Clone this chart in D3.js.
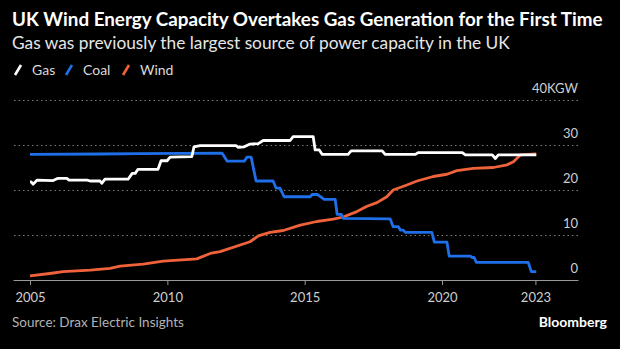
<!DOCTYPE html>
<html><head><meta charset="utf-8">
<script src="https://cdn.jsdelivr.net/npm/d3@7"></script>
<style>
html,body{margin:0;padding:0;background:#000;}
svg{display:block;font-family:Lato,"Noto Sans",sans-serif;}
</style></head>
<body>
<svg id="c" width="620" height="349"></svg>
<script>
const title = "UK Wind Energy Capacity Overtakes Gas Generation for the First Time";
const subtitle = "Gas was previously the largest source of power capacity in the UK";
const source = "Source: Drax Electric Insights";
const seriesNames = ["Gas", "Coal", "Wind"];
const seriesColors = ["#ffffff", "#1f6fe8", "#f0623a"];
const xTickValues = [2005, 2010, 2015, 2020, 2023.4];
const xTickLabels = ["2005", "2010", "2015", "2020", "2023"];
const yTickValues = [0, 10, 20, 30, 40];
const yTickLabels = ["0", "10", "20", "30", "40KGW"];

const gas = [[2005.0,21.8],[2005.04,21.8],[2005.11,21.3],[2005.26,22.2],[2005.84,22.1],[2006.02,22.6],[2006.34,22.6],[2006.42,22.2],[2007.08,22.2],[2007.19,22.0],[2007.55,22.0],[2007.61,21.5],[2007.73,22.4],[2008.57,22.4],[2008.72,23.7],[2008.83,23.7],[2008.93,24.6],[2009.66,24.6],[2009.77,26.5],[2009.99,26.5],[2010.1,27.3],[2010.89,27.4],[2010.97,29.6],[2011.19,29.85],[2012.5,29.85],[2012.58,29.5],[2012.8,29.6],[2013.01,30.2],[2013.31,30.3],[2013.49,31.0],[2014.47,31.0],[2014.58,31.85],[2015.31,31.85],[2015.38,28.9],[2015.53,28.9],[2015.64,27.9],[2016.58,27.9],[2016.69,28.7],[2017.82,28.7],[2017.93,27.9],[2019.03,27.9],[2019.13,28.3],[2020.74,28.3],[2020.85,27.8],[2021.83,27.8],[2021.94,27.0],[2022.05,27.8],[2023.43,27.8]];
const coal = [[2005.0,27.9],[2007.55,28.0],[2009.0,28.1],[2011.99,28.2],[2012.18,26.4],[2012.8,26.4],[2012.9,27.3],[2013.05,27.3],[2013.23,22.0],[2013.85,22.0],[2013.96,20.4],[2014.1,20.4],[2014.25,18.5],[2015.2,18.5],[2015.27,19.0],[2015.46,19.0],[2015.56,18.6],[2015.71,17.9],[2016.11,17.9],[2016.18,14.6],[2016.33,14.6],[2016.4,13.7],[2018.11,13.6],[2018.22,11.85],[2018.41,11.85],[2018.48,11.1],[2018.59,11.1],[2018.66,10.6],[2019.63,10.6],[2019.72,8.4],[2020.18,8.4],[2020.26,5.3],[2021.03,5.3],[2021.1,5.0],[2021.17,5.0],[2021.25,3.9],[2023.14,3.9],[2023.25,1.85],[2023.43,1.85]];
const wind = [[2005.0,0.9],[2005.79,1.5],[2006.2,1.85],[2007.19,2.2],[2007.91,2.6],[2008.28,3.1],[2009.12,3.55],[2009.85,4.2],[2011.07,4.7],[2011.56,5.9],[2011.92,6.3],[2013.01,8.5],[2013.31,9.8],[2013.74,10.6],[2014.22,11.0],[2014.84,12.2],[2015.44,13.0],[2016.04,13.55],[2016.4,14.0],[2016.9,15.2],[2017.27,16.4],[2017.63,17.2],[2017.99,18.5],[2018.22,20.0],[2018.72,21.1],[2019.09,22.0],[2019.68,23.0],[2020.18,23.5],[2020.54,24.3],[2021.14,24.8],[2021.87,25.0],[2022.37,25.6],[2022.6,26.3],[2022.85,27.8],[2023.43,28.0]];

const svg = d3.select("#c");
const x = d3.scaleLinear().domain([2004.38, 2024.95]).range([13, 578]);
const y = d3.scaleLinear().domain([0, 40]).range([280, 100]);

function fit(sel, target) {
  const w = sel.node().getComputedTextLength();
  const fs = parseFloat(sel.attr("font-size"));
  sel.attr("font-size", fs * target / w);
}

const t = svg.append("text").attr("x", 12).attr("y", 26).attr("font-size", 17)
  .attr("font-weight", 700).attr("fill", "#fff").text(title);
fit(t, 591);
const st = svg.append("text").attr("x", 12).attr("y", 49).attr("font-size", 16)
  .attr("fill", "#e6e6e6").text(subtitle);
fit(st, 498);

// legend
const legX = [14, 65, 122];
seriesNames.forEach((n, i) => {
  const g = svg.append("g").attr("transform", `translate(${legX[i]},70)`);
  g.append("line").attr("x1", 1).attr("y1", 5).attr("x2", 7).attr("y2", -5)
    .attr("stroke", seriesColors[i]).attr("stroke-width", 2.6);
  g.append("text").attr("x", 18).attr("y", 5).attr("font-size", 14)
    .attr("fill", "#d9d9d9").text(n);
});

// y grid + labels
const yAxis = d3.axisRight(y).tickValues(yTickValues)
  .tickFormat((d, i) => yTickLabels[i]).tickSize(-565);
const yg = svg.append("g").attr("transform", "translate(578,0)").call(yAxis);
yg.select(".domain").remove();
yg.selectAll(".tick line").attr("stroke", "#7a7a7a").attr("stroke-dasharray", "1.5,3")
  .attr("stroke-width", 1).filter(d => d === 0).remove();
yg.selectAll(".tick text").attr("x", 0).attr("dy", -8).attr("text-anchor", "end")
  .attr("font-size", 13).attr("fill", "#cfcfcf").attr("font-family", "Lato,'Noto Sans',sans-serif");

// lines
const line = d3.line().x(d => x(d[0])).y(d => y(d[1]));
[wind, coal, gas].forEach((data, k) => {
  const i = [2, 1, 0][k];
  svg.append("path").datum(data).attr("d", line).attr("fill", "none")
    .attr("stroke", seriesColors[i]).attr("stroke-width", 2.8)
    .attr("stroke-linejoin", "round").attr("stroke-linecap", "butt");
});

// x axis
const xAxis = d3.axisBottom(x).tickValues(xTickValues)
  .tickFormat((d, i) => xTickLabels[i]).tickSize(5).tickSizeOuter(0);
const xg = svg.append("g").attr("transform", "translate(0,280)").call(xAxis);
xg.select(".domain").attr("stroke", "#9a9a9a").attr("stroke-width", 1.2);
xg.selectAll(".tick line").attr("stroke", "#9a9a9a");
xg.selectAll(".tick text").attr("y", 13).attr("font-size", 13).attr("fill", "#cfcfcf")
  .attr("font-family", "Lato,'Noto Sans',sans-serif");

const src = svg.append("text").attr("x", 12).attr("y", 327).attr("font-size", 13)
  .attr("fill", "#b3b3b3").text(source);
fit(src, 172);
svg.append("text").attr("x", 607).attr("y", 327).attr("font-size", 14).attr("font-weight", 700)
  .attr("text-anchor", "end").attr("fill", "#fff").text("Bloomberg");
</script>
</body></html>
